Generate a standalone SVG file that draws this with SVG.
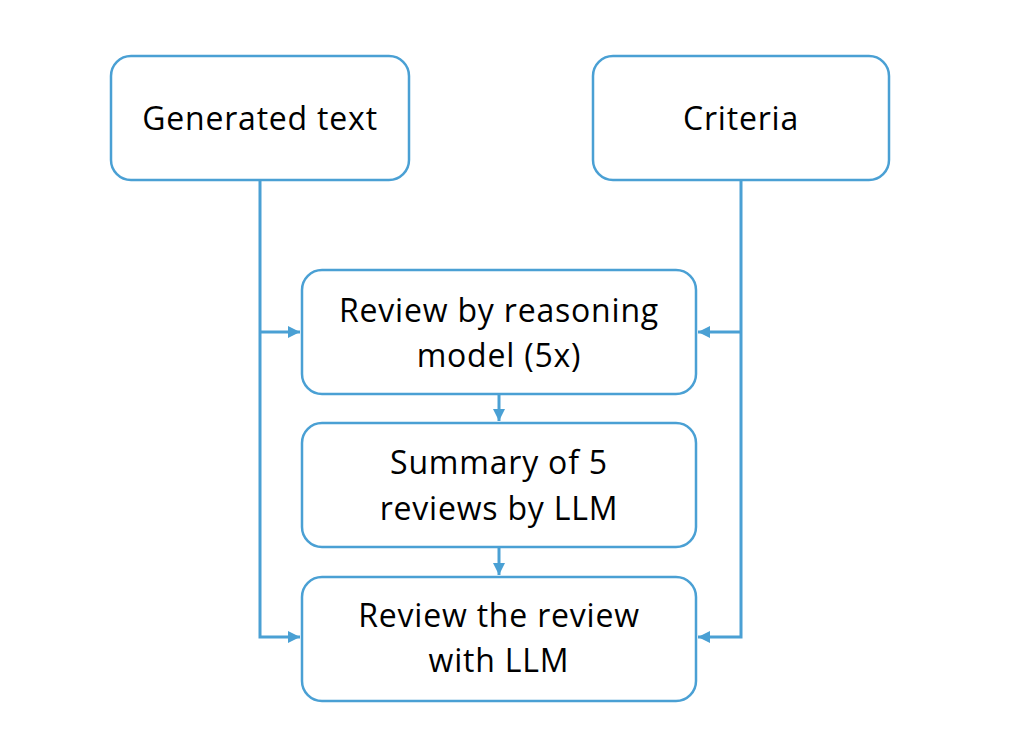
<svg xmlns="http://www.w3.org/2000/svg" width="1022" height="754" viewBox="0 0 1022 754">
<defs>
<style>
.box{fill:#fff;stroke:#4aa0d4;stroke-width:2.5}
.ln{fill:none;stroke:#4aa0d4;stroke-width:3}
.t{font-family:"Open Sans","Liberation Sans",sans-serif;font-size:32px;letter-spacing:0.8px;fill:#000;text-anchor:middle}
</style>
<marker id="ah" viewBox="0 0 10 10" refX="10" refY="5" markerWidth="4" markerHeight="4" orient="auto" markerUnits="strokeWidth">
<path d="M0,0 L10,5 L0,10 Z" fill="#4aa0d4"/>
</marker>
</defs>
<rect width="1022" height="754" fill="#fff"/>
<g id="connectors">
<path class="ln" d="M260,180 V637 H300" marker-end="url(#ah)"/>
<path class="ln" d="M260,332 H300" marker-end="url(#ah)"/>
<path class="ln" d="M741,180 V637 H698" marker-end="url(#ah)"/>
<path class="ln" d="M741,332 H698" marker-end="url(#ah)"/>
<path class="ln" d="M499,394 V421" marker-end="url(#ah)"/>
<path class="ln" d="M499,547 V575" marker-end="url(#ah)"/>
</g>
<g id="generated">
<rect class="box" x="111" y="56" width="298" height="124" rx="20"/>
<text class="t" x="260" y="130">Generated text</text>
</g>
<g id="criteria">
<rect class="box" x="593" y="56" width="296" height="124" rx="20"/>
<text class="t" x="741" y="130">Criteria</text>
</g>
<g id="review">
<rect class="box" x="302" y="270" width="394" height="124" rx="20"/>
<text class="t" x="499" y="322">Review by reasoning</text>
<text class="t" x="499" y="367">model (5x)</text>
</g>
<g id="summary">
<rect class="box" x="302" y="423" width="394" height="124" rx="20"/>
<text class="t" x="499" y="474">Summary of 5</text>
<text class="t" x="499" y="520">reviews by LLM</text>
</g>
<g id="reviewreview">
<rect class="box" x="302" y="577" width="394" height="124" rx="20"/>
<text class="t" x="499" y="627">Review the review</text>
<text class="t" x="499" y="672">with LLM</text>
</g>
</svg>
